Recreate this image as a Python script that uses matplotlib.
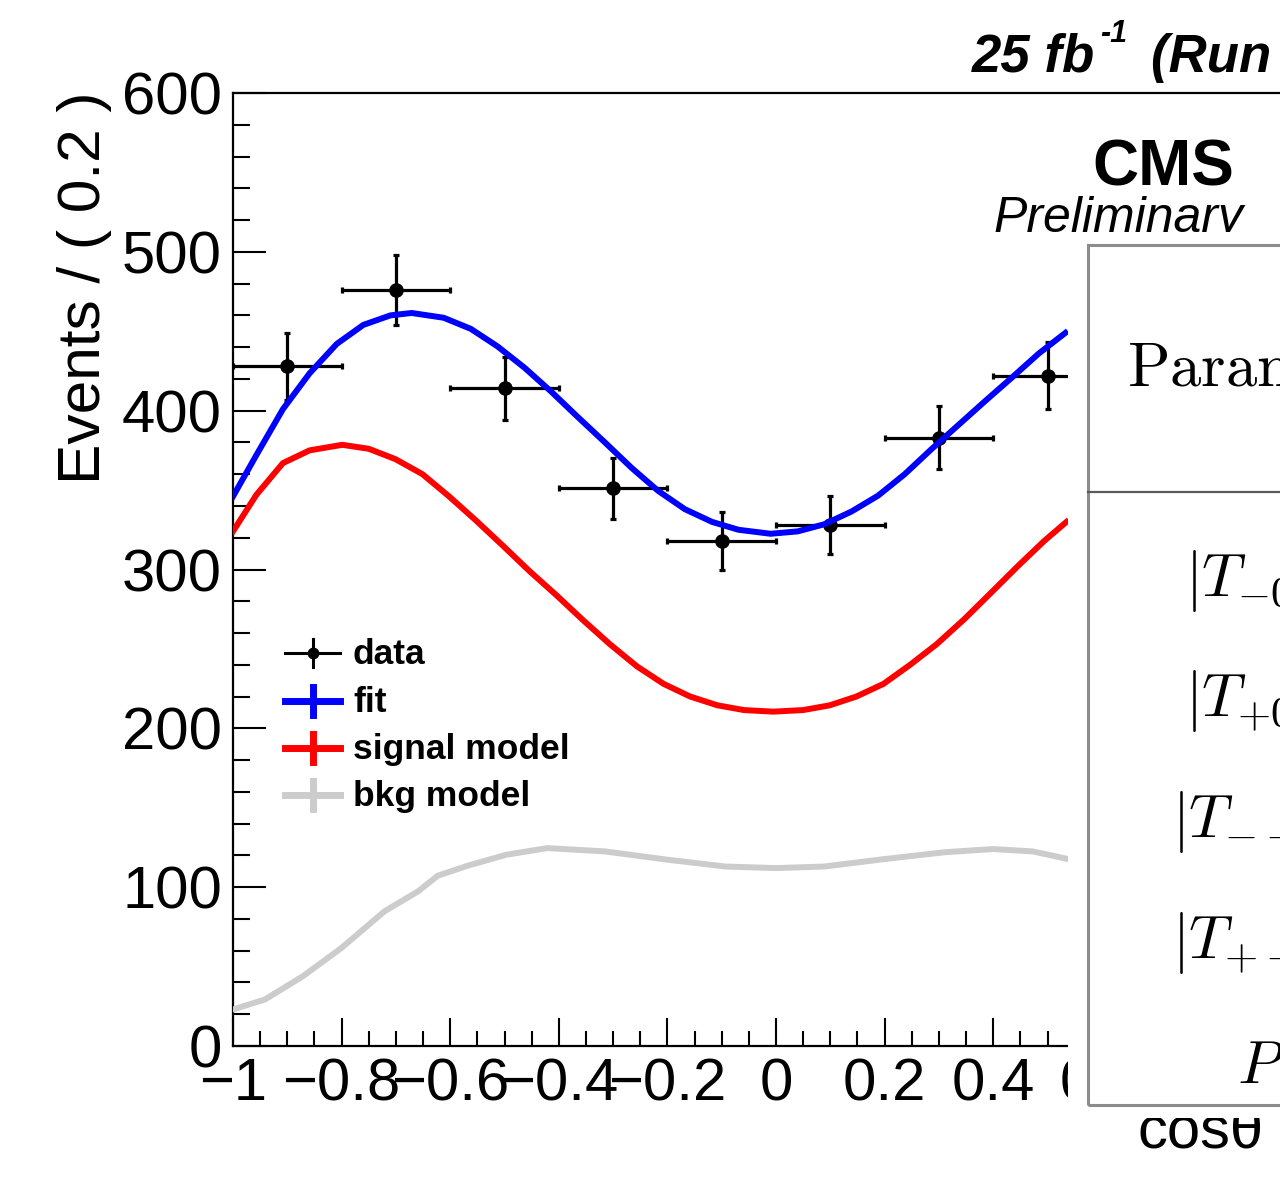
import matplotlib
matplotlib.use("Agg")
import matplotlib.pyplot as plt
from matplotlib.patches import Rectangle
from matplotlib.lines import Line2D
from matplotlib.ticker import FixedLocator, FixedFormatter, MultipleLocator

plt.rcParams['font.family'] = ['Liberation Sans', 'DejaVu Sans']
plt.rcParams['mathtext.fontset'] = 'cm'

# ---------------- data ----------------
bin_centers = [-0.9, -0.7, -0.5, -0.3, -0.1, 0.1, 0.3, 0.5]
bin_half_width = 0.1
events = [428, 476, 414, 351, 318, 328, 383, 422]
event_errors = [21, 22, 20, 19, 18, 18, 20, 21]

fit_x = [-1.0, -0.957, -0.908, -0.859, -0.809, -0.760, -0.710, -0.671, -0.612,
         -0.562, -0.513, -0.463, -0.414, -0.365, -0.315, -0.266, -0.217,
         -0.168, -0.118, -0.069, -0.010, 0.040, 0.089, 0.139, 0.188, 0.237,
         0.287, 0.336, 0.385, 0.435, 0.484, 0.533]
fit_y = [346, 372, 401, 423.5, 442, 454, 460, 461.5, 458.5,
         451.5, 440.5, 427, 412, 396, 380, 364, 349.5,
         338, 330, 325, 322.5, 324, 328.5, 336.5, 346.5, 360,
         376, 391, 406, 421, 436, 449]

sig_x = [-1.0, -0.957, -0.908, -0.859, -0.799, -0.750, -0.701, -0.651, -0.602,
         -0.553, -0.503, -0.454, -0.405, -0.355, -0.306, -0.256, -0.207,
         -0.158, -0.108, -0.059, -0.005, 0.050, 0.099, 0.148, 0.198, 0.247,
         0.296, 0.346, 0.395, 0.445, 0.494, 0.535]
sig_y = [324, 347, 367, 375, 378.5, 376, 369.5, 360, 346,
         331, 315, 299, 284, 268, 253, 239, 228,
         220, 214.5, 211.5, 210.5, 211.5, 214.5, 220, 228, 240,
         253, 268.5, 285, 302, 318, 330]

bkg_x = [-1.0, -0.941, -0.871, -0.8, -0.721, -0.659, -0.623, -0.568, -0.497,
         -0.421, -0.315, -0.2, -0.093, 0.0, 0.089, 0.2, 0.311, 0.4, 0.473, 0.538]
bkg_y = [23, 29.3, 44, 61.8, 84.8, 97.4, 107.2, 113.5, 120.4,
         124.6, 122.5, 117.3, 113, 112, 113, 117.7, 122, 124, 122.5, 117.7]

x_ticks = [-1.0, -0.8, -0.6, -0.4, -0.2, 0.0, 0.2, 0.4, 0.6, 0.8, 1.0]
x_tick_labels = ["\u22121", "\u22120.8", "\u22120.6", "\u22120.4", "\u22120.2",
                 "0", "0.2", "0.4", "0.6", "0.8", "1"]
y_ticks = [0, 100, 200, 300, 400, 500, 600]
y_tick_labels = ["0", "100", "200", "300", "400", "500", "600"]

legend_labels = ["data", "fit", "signal model", "bkg model"]
legend_colors = ["black", "#0000ff", "#ff0000", "#cccccc"]

table_header = r"$\mathrm{Parameter}$"
table_rows = [r"$|T_{-0}|^2$", r"$|T_{+0}|^2$", r"$|T_{--}|^2$",
              r"$|T_{+-}|^2$", r"$P$"]

# ---------------- layout helpers (pixel -> figure fraction) ----------------
W, H, DPI = 1280, 1182, 100


def fx(px):
    return px / W


def fy(py):
    return 1 - py / H


fig = plt.figure(figsize=(W / DPI, H / DPI), dpi=DPI)
fig.patch.set_facecolor("white")

ax = fig.add_axes([fx(233), fy(1046), (1319 - 233) / W, (1046 - 93) / H])
ax.set_xlim(-1, 1)
ax.set_ylim(0, 600)

for sp in ax.spines.values():
    sp.set_linewidth(1.6)

ax.xaxis.set_major_locator(FixedLocator(x_ticks))
ax.xaxis.set_major_formatter(FixedFormatter(x_tick_labels))
ax.xaxis.set_minor_locator(MultipleLocator(0.05))
ax.yaxis.set_major_locator(FixedLocator(y_ticks))
ax.yaxis.set_major_formatter(FixedFormatter(y_tick_labels))
ax.yaxis.set_minor_locator(MultipleLocator(20))

ax.tick_params(axis='both', which='both', direction='in', width=1.5,
               top=False, right=False, labelsize=43)
ax.tick_params(axis='y', which='major', length=23.5, pad=8)
ax.tick_params(axis='y', which='minor', length=12)
ax.tick_params(axis='x', which='major', length=20, pad=8)
ax.tick_params(axis='x', which='minor', length=10.5)

# data points with errors
ax.errorbar(bin_centers, events, xerr=bin_half_width, yerr=event_errors,
            fmt='o', color='black', ms=9.5, elinewidth=2.3, capsize=2.5,
            capthick=2.3, zorder=3)

# model curves
ax.plot(bkg_x, bkg_y, color=legend_colors[3], lw=4.3, zorder=4,
        solid_joinstyle='round')
ax.plot(sig_x, sig_y, color=legend_colors[2], lw=4.3, zorder=5,
        solid_joinstyle='round')
ax.plot(fit_x, fit_y, color=legend_colors[1], lw=4.3, zorder=6,
        solid_joinstyle='round')

# ---------------- legend ----------------
leg_centers = [653, 701, 748, 795]
for i, (lab, col, yc) in enumerate(zip(legend_labels, legend_colors, leg_centers)):
    if i == 0:
        fig.add_artist(Line2D([fx(285), fx(340)], [fy(yc)] * 2, color=col, lw=2.2))
        fig.add_artist(Line2D([fx(312.5)] * 2, [fy(yc - 13.5), fy(yc + 13.5)],
                              color=col, lw=2.2))
        fig.add_artist(Line2D([fx(312.5)], [fy(yc)], marker='o', ms=7.5,
                              color=col, lw=0))
    else:
        fig.add_artist(Line2D([fx(285), fx(340)], [fy(yc)] * 2, color=col, lw=5))
        fig.add_artist(Line2D([fx(312.5)] * 2, [fy(yc - 14), fy(yc + 14)],
                              color=col, lw=5))
    fig.text(fx(353), fy(yc + 11), lab, fontsize=25.5, fontweight='bold',
             va='baseline', ha='left')

# ---------------- labels ----------------
fig.text(fx(85), fy(288), "Events / ( 0.2 )", rotation=90, fontsize=43.5,
         ha='center', va='center')
fig.text(fx(1138), fy(1148), "cos\u03b8", fontsize=43, ha='left', va='baseline')

fig.text(fx(972), fy(72), "25 fb", fontsize=38, fontweight='bold',
         fontstyle='italic', ha='left', va='baseline')
fig.text(fx(1100), fy(42), "-1", fontsize=22, fontweight='bold',
         fontstyle='italic', ha='left', va='baseline')
fig.text(fx(1151), fy(72), "(Run 2, 13 TeV)", fontsize=38, fontweight='bold',
         fontstyle='italic', ha='left', va='baseline')

fig.text(fx(1163.5), fy(185), "CMS", fontsize=46, fontweight='bold',
         ha='center', va='baseline')
fig.text(fx(993), fy(232), "Preliminary", fontsize=36, fontstyle='italic',
         ha='left', va='baseline')

# ---------------- parameter table ----------------
fig.add_artist(Rectangle((fx(1068), fy(1118)), (1300 - 1068) / W,
                         (1118 - 232) / H, transform=fig.transFigure,
                         facecolor='white', edgecolor='none', zorder=20))
fig.add_artist(Rectangle((fx(1088), fy(1105)), (1400 - 1088) / W,
                         (1105 - 245) / H, transform=fig.transFigure,
                         facecolor='none', edgecolor='#8c8c8c', lw=2.2,
                         zorder=21))
fig.add_artist(Line2D([fx(1088), fx(1300)], [fy(492)] * 2, color='#5a5a5a',
                      lw=1.6, zorder=21))

fig.text(fx(1127), fy(385), table_header, fontsize=45, ha='left',
         va='baseline', zorder=22)
row_baselines = [597, 717, 838, 959, 1083]
for txt, yb in zip(table_rows, row_baselines):
    fig.text(fx(1261), fy(yb), txt, fontsize=44, ha='center', va='baseline',
             zorder=22)

fig.savefig("out.png", dpi=DPI, facecolor='white')
